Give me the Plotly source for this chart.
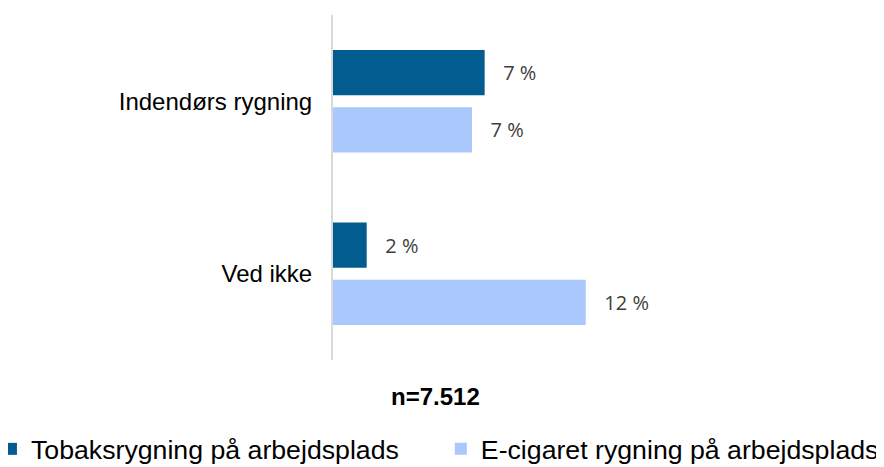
import plotly.graph_objects as go

# Data (percent)
categories = ["Indendørs rygning", "Ved ikke"]
tobak = [7.2, 1.6]
ecig = [6.6, 12.0]
series_names = ["Tobaksrygning på arbejdsplads", "E-cigaret rygning på arbejdsplads"]
sample_note = "n=7.512"

COLORS = {"tobak": "#035C8F", "ecig": "#ABC8FC", "label": "#404040", "axis": "#D9D9D9"}

fig = go.Figure()
for name, values, color, leg in [(series_names[0], tobak, COLORS["tobak"], "legend"),
                                 (series_names[1], ecig, COLORS["ecig"], "legend2")]:
    fig.add_trace(go.Bar(
        y=categories,
        x=values,
        name=name,
        orientation="h",
        legend=leg,
        marker=dict(color=color, line=dict(width=0)),
        texttemplate="\u00a0\u00a0\u00a0%{x:.0f} %",
        textposition="outside",
        textfont=dict(family="Open Sans, sans-serif", size=20, color=COLORS["label"]),
        cliponaxis=False,
    ))

# one legend per series so each entry sits where the reference has it
legend_common = dict(
    orientation="h", yanchor="middle", y=-0.258,
    font=dict(size=26.7, color="black"), bgcolor="rgba(0,0,0,0)",
)

fig.update_layout(
    width=884, height=467,
    paper_bgcolor="white", plot_bgcolor="white",
    barmode="group", bargap=0.337, bargroupgap=0.21,
    margin=dict(l=325, r=222, t=7, b=115, autoexpand=False),
    font=dict(family="Liberation Sans, Arial, sans-serif", size=24, color="black"),
    showlegend=True,
    legend=dict(x=-1.015, xanchor="left", **legend_common),
    legend2=dict(x=0.320, xanchor="left", **legend_common),
    annotations=[dict(
        text=f"<b>{sample_note}</b>", xref="paper", yref="paper",
        x=0.304, y=-0.106, xanchor="center", yanchor="middle", showarrow=False,
        font=dict(size=24, color="black"),
    )],
)
fig.update_xaxes(range=[0, 16], visible=False, showgrid=False, zeroline=False)
fig.update_yaxes(
    autorange="reversed", showgrid=False, zeroline=False,
    showline=True, linecolor=COLORS["axis"], linewidth=2,
    ticks="", ticklabelstandoff=14, tickfont=dict(size=24),
)

fig.write_html("out.html")
